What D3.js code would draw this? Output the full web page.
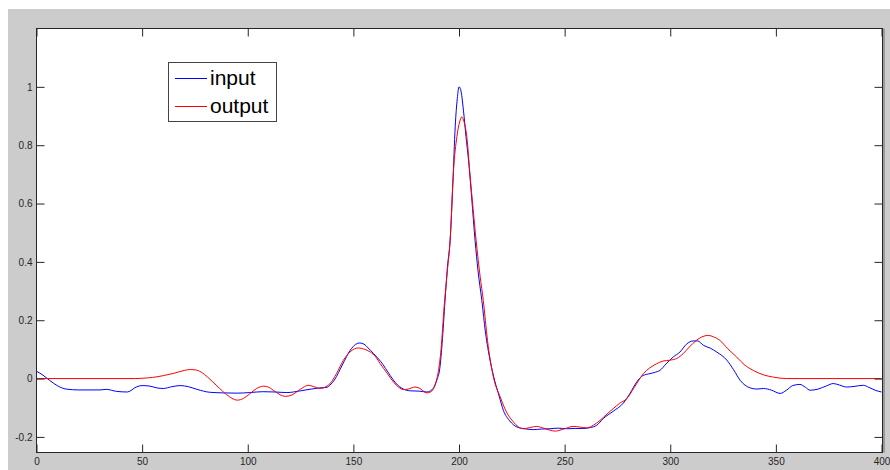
<!DOCTYPE html>
<html>
<head>
<meta charset="utf-8">
<script src="https://cdn.jsdelivr.net/npm/d3@7"></script>
<style>
  html, body { margin: 0; padding: 0; background: #ffffff; }
  svg { display: block; }
  text { font-family: Arial, "Liberation Sans", Helvetica, sans-serif; }
</style>
</head>
<body>
<svg id="chart" width="890" height="470"></svg>
<script>
// ---- data ----
const xTicks = [0, 50, 100, 150, 200, 250, 300, 350, 400];
const yTicks = [-0.2, 0, 0.2, 0.4, 0.6, 0.8, 1];
const seriesNames = ["input", "output"];

const inputX = [0, 3, 6, 10, 14, 20, 30, 33, 38, 43, 47.5, 50, 53.8, 57, 60, 64, 68, 72, 76, 82, 88, 95, 101, 107, 113, 118.5, 125, 130, 134, 137.5, 139, 141, 145, 148.5, 151, 152.9, 155, 157, 159.5, 163, 167.4, 170, 173.7, 177, 181, 184.8, 186.5, 188, 189.5, 191, 192, 193.4, 194.5, 195.8, 197.1, 198.2, 199.2, 200, 200.8, 202.1, 203.3, 204.5, 206, 207.6, 209, 210.8, 212.5, 214.7, 217, 219, 221, 224, 227.4, 231, 235.2, 239, 243, 247, 251, 255, 258.5, 262.1, 265.2, 268.3, 273, 277.8, 281, 284.1, 287, 290.4, 293, 295.1, 298, 301.4, 304.6, 307.7, 310.9, 313, 315.7, 319, 322, 326.8, 330, 333.1, 337.8, 341, 344.1, 348, 352, 355, 358, 361.4, 364, 366.2, 370, 374, 377.2, 380, 383.5, 387, 391.4, 394, 397, 400];
const inputY = [0.025, 0.012, -0.005, -0.025, -0.036, -0.039, -0.039, -0.037, -0.044, -0.046, -0.028, -0.024, -0.026, -0.032, -0.034, -0.028, -0.024, -0.028, -0.037, -0.047, -0.049, -0.050, -0.048, -0.045, -0.046, -0.048, -0.042, -0.036, -0.032, -0.030, -0.022, -0.005, 0.050, 0.097, 0.117, 0.122, 0.118, 0.105, 0.086, 0.058, 0.011, -0.015, -0.036, -0.042, -0.043, -0.046, -0.042, -0.031, -0.005, 0.040, 0.12, 0.268, 0.38, 0.474, 0.669, 0.863, 0.96, 1.0, 0.99, 0.92, 0.83, 0.749, 0.62, 0.474, 0.37, 0.268, 0.16, 0.063, -0.01, -0.06, -0.109, -0.145, -0.166, -0.172, -0.175, -0.173, -0.172, -0.170, -0.172, -0.171, -0.171, -0.168, -0.160, -0.137, -0.112, -0.084, -0.050, -0.012, 0.010, 0.017, 0.022, 0.028, 0.050, 0.074, 0.091, 0.118, 0.129, 0.129, 0.114, 0.104, 0.091, 0.063, 0.030, -0.006, -0.032, -0.036, -0.034, -0.040, -0.051, -0.040, -0.024, -0.020, -0.030, -0.040, -0.036, -0.025, -0.017, -0.022, -0.029, -0.027, -0.023, -0.030, -0.040, -0.046];

const outputX = [0, 47, 50, 55, 60, 65, 70, 72.8, 75, 78, 81, 85.4, 90, 95, 98, 101, 104, 107.5, 110, 113, 117.7, 121, 125, 128.7, 131, 134.3, 137, 139, 142, 145.3, 148.5, 152.4, 155, 158, 160.5, 162.7, 166, 169, 171.5, 173.7, 176, 179.2, 181, 184.8, 186.5, 188, 189.2, 190.3, 191.5, 193, 194.5, 195.8, 197.4, 199, 200.3, 201.3, 202.4, 203.7, 205.3, 206.7, 208.1, 210, 211.5, 213.5, 216.3, 219.5, 222.5, 225.8, 228, 230.5, 233.5, 236.8, 240, 245.5, 250, 254, 257, 260.5, 263.6, 266.8, 270, 273, 276, 279.4, 283, 287.3, 290, 293.6, 296.5, 299.9, 303.1, 306.2, 309, 312.4, 315, 318, 320.5, 323.5, 327, 331.4, 335, 339.3, 344, 348.8, 355.1, 400];
const outputY = [0, 0, 0.001, 0.004, 0.010, 0.018, 0.028, 0.031, 0.030, 0.022, 0.005, -0.025, -0.055, -0.074, -0.068, -0.052, -0.035, -0.026, -0.030, -0.045, -0.061, -0.056, -0.036, -0.023, -0.027, -0.034, -0.028, -0.017, 0.017, 0.063, 0.092, 0.105, 0.101, 0.091, 0.075, 0.051, 0.018, -0.012, -0.030, -0.038, -0.036, -0.029, -0.032, -0.049, -0.046, -0.034, -0.010, 0.028, 0.10, 0.25, 0.37, 0.474, 0.714, 0.829, 0.88, 0.897, 0.88, 0.829, 0.691, 0.58, 0.474, 0.35, 0.268, 0.13, 0.005, -0.063, -0.115, -0.149, -0.165, -0.172, -0.168, -0.164, -0.170, -0.180, -0.172, -0.164, -0.166, -0.169, -0.160, -0.143, -0.122, -0.103, -0.085, -0.069, -0.030, 0.017, 0.035, 0.051, 0.060, 0.063, 0.069, 0.086, 0.108, 0.131, 0.143, 0.148, 0.143, 0.131, 0.104, 0.074, 0.048, 0.028, 0.013, 0.005, 0.0, 0.0];

// ---- drawing ----
(function () {
const W = 890, H = 470;
const svg = d3.select("#chart");

// figure background (MATLAB grey)
svg.append("rect").attr("x", 8).attr("y", 9).attr("width", W - 8).attr("height", H - 9).attr("fill", "#cccccc");

const pL = 36.5, pR = 882.5, pT = 28.5, pB = 452.5;
const x = d3.scaleLinear().domain([0, 400]).range([pL, pR - 1]);
const y = d3.scaleLinear().domain([-0.25, 1.2]).range([pB - 1, pT]);

// axes area
svg.append("rect").attr("x", pL).attr("y", pT).attr("width", pR - pL).attr("height", pB - pT).attr("fill", "#ffffff");

svg.append("clipPath").attr("id", "plotclip").append("rect")
  .attr("x", pL).attr("y", pT).attr("width", pR - pL).attr("height", pB - pT);

const line = d3.line().x(d => x(d[0])).y(d => y(d[1])).curve(d3.curveMonotoneX);
const inputData = inputX.map((v, i) => [v, inputY[i]]);
const outputData = outputX.map((v, i) => [v, outputY[i]]);

const g = svg.append("g").attr("clip-path", "url(#plotclip)");
g.append("path").datum(inputData).attr("d", line).attr("fill", "none").attr("stroke", "#0000ff").attr("stroke-width", 1);
g.append("path").datum(outputData).attr("d", line).attr("fill", "none").attr("stroke", "#ff0000").attr("stroke-width", 1);

// axes
const axisColor = "#262626";
function style(sel) {
  sel.select(".domain").remove();
  sel.selectAll(".tick line").attr("stroke", axisColor);
  sel.selectAll(".tick text").attr("fill", axisColor).style("font-size", "10px")
    .style("font-family", "Arial, 'Liberation Sans', Helvetica, sans-serif");
}
svg.append("g").attr("transform", `translate(0,${pB})`)
  .call(d3.axisBottom(x).tickValues(xTicks).tickSize(-8).tickPadding(5).tickFormat(d3.format("d")))
  .call(style);
svg.append("g").attr("transform", `translate(0,${pT})`)
  .call(d3.axisTop(x).tickValues(xTicks).tickSize(-8).tickFormat(""))
  .call(style);
svg.append("g").attr("transform", `translate(${pL},0)`)
  .call(d3.axisLeft(y).tickValues(yTicks).tickSize(-8).tickPadding(4).tickFormat(d => String(+d.toFixed(1))))
  .call(style);
svg.append("g").attr("transform", `translate(${pR},0)`)
  .call(d3.axisRight(y).tickValues(yTicks).tickSize(-8).tickFormat(""))
  .call(style);

// box
svg.append("rect").attr("x", pL).attr("y", pT).attr("width", pR - pL).attr("height", pB - pT)
  .attr("fill", "none").attr("stroke", axisColor).attr("stroke-width", 1);
svg.append("line").attr("x1", pR + 1.5).attr("x2", pR + 1.5).attr("y1", pT).attr("y2", pB)
  .attr("stroke", "#9a9a9a").attr("stroke-width", 2);

// legend
const lg = svg.append("g");
lg.append("rect").attr("x", 168.5).attr("y", 62.5).attr("width", 108).attr("height", 59)
  .attr("fill", "#ffffff").attr("stroke", "#444444").attr("stroke-width", 1);
const colors = ["#0000ff", "#ff0000"];
const rows = [78.5, 106.5];
seriesNames.forEach((name, i) => {
  lg.append("line").attr("x1", 175).attr("x2", 207).attr("y1", rows[i]).attr("y2", rows[i])
    .attr("stroke", colors[i]).attr("stroke-width", 1);
  lg.append("text").attr("x", 210).attr("y", rows[i] + 6).attr("fill", "#000000")
    .style("font-size", "21px").text(name);
});
})();
</script>
</body>
</html>
